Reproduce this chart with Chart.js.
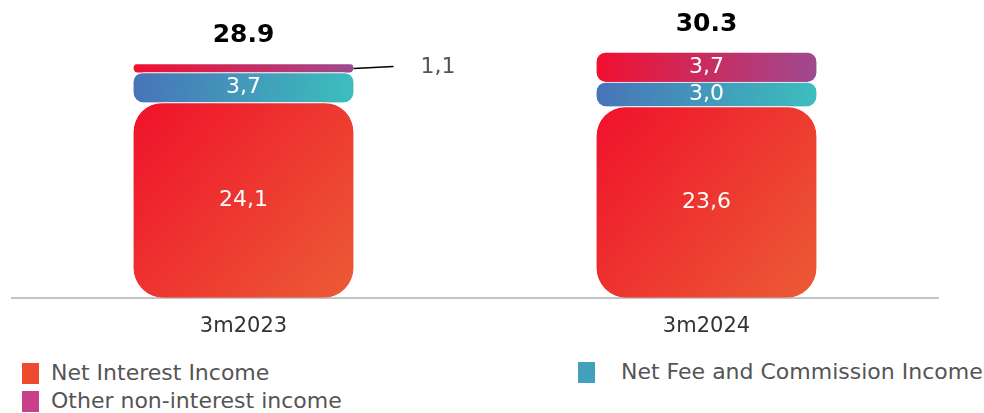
<!DOCTYPE html>
<html>
<head>
<meta charset="utf-8">
<script src="https://cdn.jsdelivr.net/npm/chart.js@4.4.1/dist/chart.umd.min.js"></script>
<style>
    body { margin: 0; background: #fff; }
    #wrap { position: relative; width: 984px; height: 413px; overflow: hidden; }
    #incomeChart { position: absolute; left: 0; top: 0; }
    .legend-item { position: absolute; font-family: 'DejaVu Sans', sans-serif; font-size: 22px; color: #555; white-space: nowrap; line-height: 24px; }
    .legend-item span { display: inline-block; width: 17px; height: 21px; vertical-align: -4px; margin-right: 12px; }
</style>
</head>
<body>
<div id="wrap">
    <canvas id="incomeChart" width="984" height="351"></canvas>
    <div class="legend-item" style="left:22px; top:361px;"><span style="background:#EF4A2F"></span>Net Interest Income</div>
    <div class="legend-item" style="left:578px; top:360px;"><span style="background:#41A0BA; margin-right:26px"></span>Net Fee and Commission Income</div>
    <div class="legend-item" style="left:22px; top:389px;"><span style="background:#C8408C"></span>Other non-interest income</div>
</div>
<script>
const categories = ['3m2023', '3m2024'];
const netInterest = [24.1, 23.6];
const netFee = [3.7, 3.0];
const otherIncome = [1.1, 3.7];
const totals = ['28.9', '30.3'];

const allSeries = [netInterest, netFee, otherIncome];

// gradient across the bounds of one stacked segment
function barGradient(context, from, to) {
    const chart = context.chart;
    if (!chart.chartArea || context.type !== 'data') return from;
    const i = context.dataIndex;
    const d = context.datasetIndex;
    let lo = 0;
    for (let k = 0; k < d; k++) lo += allSeries[k][i];
    const hi = lo + allSeries[d][i];
    const cx = chart.scales.x.getPixelForValue(i);
    const top = chart.scales.y.getPixelForValue(hi);
    const bottom = chart.scales.y.getPixelForValue(lo);
    const g = chart.ctx.createLinearGradient(cx - 110, top, cx + 110, bottom);
    g.addColorStop(0, from);
    g.addColorStop(1, to);
    return g;
}

const labelPlugin = {
    id: 'barLabels',
    afterDatasetsDraw(chart) {
        const ctx = chart.ctx;
        ctx.save();
        ctx.textBaseline = 'middle';
        chart.data.datasets.forEach((ds, d) => {
            chart.getDatasetMeta(d).data.forEach((bar, i) => {
                const v = ds.data[i];
                const text = v.toFixed(1).replace('.', ',');
                const midY = (bar.y + bar.base) / 2;
                ctx.font = '22px "DejaVu Sans"';
                if (v < 2) {
                    // too thin for the label: put it outside with a leader line
                    const right = bar.x + bar.width / 2;
                    ctx.strokeStyle = '#000';
                    ctx.lineWidth = 1.5;
                    ctx.beginPath();
                    ctx.moveTo(right, midY + 0.5);
                    ctx.lineTo(right + 40, midY - 1.5);
                    ctx.stroke();
                    ctx.fillStyle = '#555';
                    ctx.textAlign = 'left';
                    ctx.fillText(text, right + 67, midY - 1);
                } else {
                    ctx.fillStyle = '#fff';
                    ctx.textAlign = 'center';
                    ctx.fillText(text, bar.x, midY);
                }
            });
        });
        // totals above each stack
        const topMeta = chart.getDatasetMeta(chart.data.datasets.length - 1);
        ctx.font = 'bold 25px "DejaVu Sans"';
        ctx.fillStyle = '#000';
        ctx.textAlign = 'center';
        topMeta.data.forEach((bar, i) => {
            ctx.fillText(totals[i], bar.x, bar.y - 28);
        });
        ctx.restore();
    }
};

const bigRadius = { topLeft: 30, topRight: 30, bottomLeft: 30, bottomRight: 30 };
const smallRadius = { topLeft: 10, topRight: 10, bottomLeft: 10, bottomRight: 10 };
const gapBorder = { top: 1, right: 0, bottom: 0, left: 0 };

new Chart(document.getElementById('incomeChart'), {
    type: 'bar',
    data: {
        labels: categories,
        datasets: [
            {
                label: 'Net Interest Income',
                data: netInterest,
                backgroundColor: c => barGradient(c, '#F0112B', '#EB5C35'),
                borderRadius: bigRadius,
                borderSkipped: false,
                borderWidth: gapBorder,
                borderColor: '#fff',
                barThickness: 220
            },
            {
                label: 'Net Fee and Commission Income',
                data: netFee,
                backgroundColor: c => barGradient(c, '#4873B8', '#3CBFBD'),
                borderRadius: smallRadius,
                borderSkipped: false,
                borderWidth: gapBorder,
                borderColor: '#fff',
                barThickness: 220
            },
            {
                label: 'Other non-interest income',
                data: otherIncome,
                backgroundColor: c => barGradient(c, '#F2102F', '#9E4A92'),
                borderRadius: smallRadius,
                borderSkipped: false,
                borderWidth: gapBorder,
                borderColor: '#fff',
                barThickness: 220
            }
        ]
    },
    options: {
        responsive: false,
        animation: false,
        layout: { padding: { left: 12, right: 46, top: 6, bottom: 4 } },
        plugins: {
            legend: { display: false },
            tooltip: { enabled: false }
        },
        scales: {
            x: {
                stacked: true,
                grid: { display: false },
                border: { display: true, color: '#C4C4C4', width: 2 },
                ticks: { color: '#333', padding: 8, font: { family: 'DejaVu Sans', size: 21 } }
            },
            y: {
                stacked: true,
                display: false,
                min: 0,
                max: 36
            }
        }
    },
    plugins: [labelPlugin]
});
</script>
</body>
</html>
